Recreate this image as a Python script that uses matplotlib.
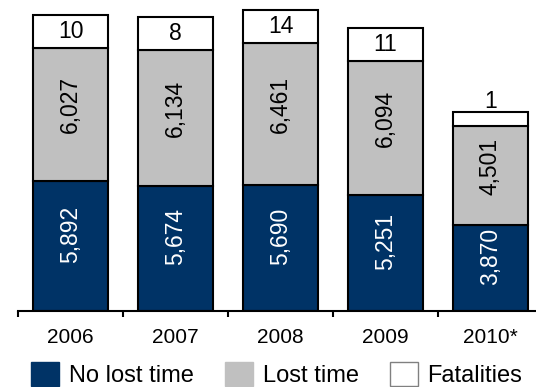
import numpy as np
import matplotlib
matplotlib.use("Agg")
import matplotlib.pyplot as plt
from matplotlib.patches import Patch

plt.rcParams['font.family'] = ['Liberation Sans', 'DejaVu Sans']

# Data
years = ["2006", "2007", "2008", "2009", "2010*"]
no_lost_time = [5892, 5674, 5690, 5251, 3870]
lost_time = [6027, 6134, 6461, 6094, 4501]
fatalities = [10, 8, 14, 11, 1]

NAVY = "#003366"
GREY = "#C0C0C0"
EDGE = "black"

fig = plt.figure(figsize=(5.36, 3.87), dpi=100)
W, H = 536, 387
ax = fig.add_axes([18 / W, 76.5 / H, 525 / W, 310.5 / H])

x = np.arange(len(years))
no_lost = np.array(no_lost_time, dtype=float)
lost = np.array(lost_time, dtype=float)
fat = np.array(fatalities)

# Fatality counts are tiny compared with injuries, so they get a fixed-size
# box on top of each column (a short one when there is only a single case).
box_h = np.where(fat >= 5, 1500.0, 650.0)

bw = 0.714
lw = 1.5
ax.bar(x, no_lost, width=bw, color=NAVY, edgecolor=EDGE, linewidth=lw, zorder=2)
ax.bar(x, lost, width=bw, bottom=no_lost, color=GREY, edgecolor=EDGE,
       linewidth=lw, zorder=2)
ax.bar(x, box_h, width=bw, bottom=no_lost + lost, color="white",
       edgecolor=EDGE, linewidth=lw, zorder=2)

FS = 16.5
for xi, a, b, f, bh in zip(x, no_lost, lost, fat, box_h):
    ax.annotate(f"{int(a):,}", (xi, a / 2), xytext=(0, 8),
                textcoords="offset points", rotation=90, ha="center",
                va="center", color="white", fontsize=FS, zorder=3)
    ax.annotate(f"{int(b):,}", (xi, a + b / 2), xytext=(0, 7),
                textcoords="offset points", rotation=90, ha="center",
                va="center", color="black", fontsize=FS, zorder=3)
    top = a + b
    if bh >= 1000:
        ax.text(xi, top + bh / 2, f"{f}", ha="center", va="center",
                fontsize=FS, zorder=3)
    else:
        ax.annotate(f"{f}", (xi, top + bh), xytext=(0, -1),
                    textcoords="offset points", ha="center", va="bottom",
                    fontsize=FS, zorder=3)

ax.set_xlim(-0.5, len(years) - 0.5)
ax.set_ylim(0, 14100)

for s in ["top", "right", "left"]:
    ax.spines[s].set_visible(False)
ax.spines["bottom"].set_linewidth(lw)
ax.set_yticks([])

# Separator ticks between categories, labels centred under each column
ax.set_xticks(np.arange(len(years) + 1) - 0.5)
ax.set_xticklabels([])
ax.tick_params(axis="x", which="major", direction="out", length=4.3,
               width=lw, color="black")
ax.set_xticks(x, minor=True)
ax.set_xticklabels(years, minor=True, fontsize=15)
ax.tick_params(axis="x", which="minor", length=0, pad=12.5)

handles = [
    Patch(facecolor=NAVY, edgecolor=NAVY, label="No lost time"),
    Patch(facecolor=GREY, edgecolor=GREY, label="Lost time"),
    Patch(facecolor="white", edgecolor="#808080", linewidth=1.0,
          label="Fatalities"),
]
fig.legend(handles=handles, loc="upper left",
           bbox_to_anchor=(31 / W, 1 - 362 / H), ncol=3, frameon=False,
           fontsize=17, borderpad=0, borderaxespad=0, handlelength=1.2,
           handleheight=1.2, handletextpad=0.4, columnspacing=1.32)

fig.savefig("out.png", dpi=100)
